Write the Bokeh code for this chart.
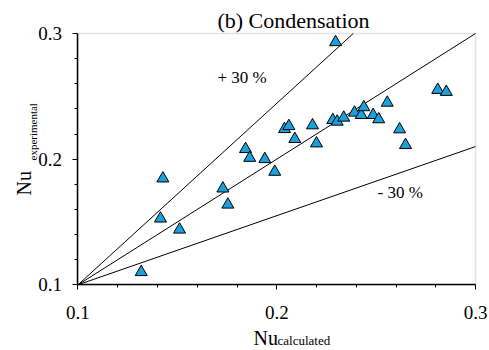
from bokeh.plotting import figure
from bokeh.models import Range1d, FixedTicker, Label, ColumnDataSource, BoxAnnotation
from bokeh.embed import file_html
from bokeh.resources import INLINE
import math

# Data
nu_calc = [0.1318, 0.1415, 0.1427, 0.1511, 0.1729, 0.1754, 0.1843, 0.1864, 0.1940, 0.1990,
           0.2039, 0.2061, 0.2091, 0.2180, 0.2200, 0.2282, 0.2304, 0.2337, 0.2391, 0.2425,
           0.2438, 0.2485, 0.2513, 0.2556, 0.2618, 0.2648, 0.2810, 0.2853, 0.2296]
nu_exp = [0.1101, 0.1527, 0.1846, 0.1439, 0.1766, 0.1638, 0.2080, 0.2010, 0.2000, 0.1899,
          0.2239, 0.2263, 0.2160, 0.2269, 0.2125, 0.2311, 0.2298, 0.2330, 0.2370, 0.2351,
          0.2413, 0.2351, 0.2317, 0.2449, 0.2237, 0.2112, 0.2551, 0.2535, 0.2931]

# reference lines (+30 %, 1:1, -30 %), end points
plus30_x = [0.1, 0.2385]
plus30_y = [0.1, 0.3]
equal_x = [0.1, 0.3]
equal_y = [0.1, 0.3]
minus30_x = [0.1, 0.3]
minus30_y = [0.1, 0.21]

major_ticks = [0.1, 0.2, 0.3]
minor_ticks = [0.12, 0.14, 0.16, 0.18, 0.22, 0.24, 0.26, 0.28]

AX_MIN, AX_MAX = 0.1, 0.3
SERIF = "Liberation Serif"

# the frame covers the whole canvas; both axes are fixed at 0.1
p = figure(width=489, height=350, output_backend="svg", toolbar_location=None,
           x_range=Range1d(0.06101, 0.30704), y_range=Range1d(0.04771, 0.32626),
           min_border=0)
p.background_fill_color = "white"
p.border_fill_color = "white"
p.outline_line_color = None
p.grid.visible = False

p.add_layout(BoxAnnotation(left=AX_MIN, right=AX_MAX, bottom=AX_MIN, top=AX_MAX,
                           fill_alpha=0, line_color="#A0A0A0", line_width=1.5,
                           level="underlay"))

p.xaxis.fixed_location = AX_MIN
p.yaxis.fixed_location = AX_MIN
for ax in (p.xaxis[0], p.yaxis[0]):
    ax.ticker = FixedTicker(ticks=major_ticks, minor_ticks=minor_ticks)
    ax.bounds = (AX_MIN, AX_MAX)
    ax.major_label_text_font = SERIF
    ax.major_label_text_font_size = "19px"
    ax.major_label_text_color = "black"
    ax.axis_line_color = "black"
    ax.axis_line_width = 1.5
    ax.major_tick_line_color = "black"
    ax.minor_tick_line_color = "black"
    ax.major_tick_out = 5
    ax.major_tick_in = 0
    ax.minor_tick_out = 3
    ax.minor_tick_in = 0
p.xaxis[0].major_label_standoff = 16
p.yaxis[0].major_label_standoff = 11

p.line(plus30_x, plus30_y, line_color="black", line_width=1)
p.line(equal_x, equal_y, line_color="black", line_width=1)
p.line(minus30_x, minus30_y, line_color="black", line_width=1)

src = ColumnDataSource(data=dict(x=nu_calc, y=nu_exp))
p.scatter("x", "y", source=src, marker="triangle", size=12,
          fill_color="#1AA0DC", line_color="black", line_width=1)

# in-plot annotations (data units)
def lab(text, x, y, size):
    p.add_layout(Label(x=x, y=y, text=text, text_font=SERIF, text_font_size=size,
                       text_color="black", text_align="left", text_baseline="alphabetic"))

lab("+ 30 %", 0.1702, 0.2646, "17px")
lab("- 30 %", 0.2507, 0.1737, "17px")

# outer texts (canvas pixels)
def clab(text, x, y, size, align="left", angle=0.0):
    p.add_layout(Label(x=x, y=y, x_units="canvas", y_units="canvas", text=text,
                       text_font=SERIF, text_font_size=size, text_color="black",
                       text_align=align, text_baseline="alphabetic", angle=angle))

clab("(b) Condensation", 293, 20, "22px", align="center")
clab("Nu", 253, 337, "20px")
clab("calculated", 277, 340, "13px")
clab("Nu", 23, 195, "20px", angle=math.pi / 2)
clab("experimental", 32, 160, "11px", angle=math.pi / 2)

open("out.html", "w").write(file_html(p, INLINE))
